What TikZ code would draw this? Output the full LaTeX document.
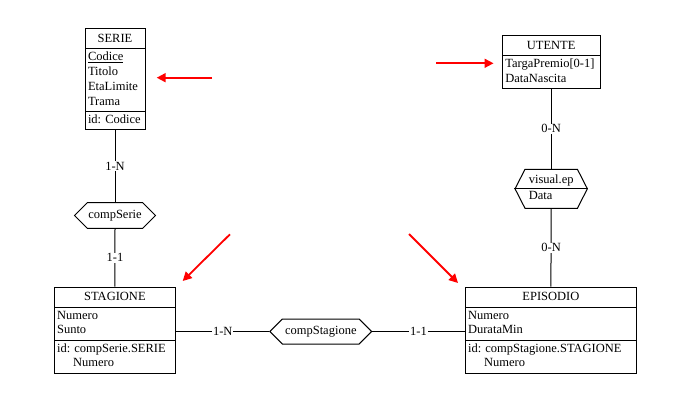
\documentclass[tikz,border=0pt]{standalone}
\usepackage{fontspec}
\setmainfont{Liberation Serif}
\usepackage{tikz}
\usetikzlibrary{shapes,shapes.multipart,shapes.symbols,arrows.meta,positioning,calc}

\newcommand{\ttl}[1]{\rule[-4.5pt]{0pt}{16.5pt}#1}
\newcommand{\attr}[1]{\begin{tabular}{@{}l@{}}#1\end{tabular}}

\begin{document}
\begin{tikzpicture}[x=1pt, y=-1pt, font=\fontsize{12.5}{14.8}\selectfont,
    entity/.style={draw, line width=1pt, rectangle split, rectangle split parts=3,
        rectangle split part align={center,left,left}, inner xsep=3pt, inner ysep=1.2pt, anchor=north},
    rel/.style={draw, line width=1pt, signal, signal to=west and east, inner sep=1pt},
    card/.style={fill=white, inner sep=1pt},
    note/.style={red, line width=1.8pt, -{Triangle[length=9pt,width=9pt]}}]
    \useasboundingbox (0,0) rectangle (682,411);

    % Entities
    \node [entity, minimum width=60pt] (serie) at (115,28.3)
        {\ttl{SERIE}
         \nodepart{two}\attr{\underline{Codice}\\Titolo\\EtaLimite\\Trama}
         \nodepart{three}\attr{id: Codice}};
    \node [entity, rectangle split parts=2, minimum width=97.7pt] (utente) at (551.2,35)
        {\ttl{UTENTE}
         \nodepart{two}\attr{TargaPremio[0-1]\\DataNascita}};
    \node [entity, minimum width=121.7pt] (stagione) at (114.9,286.7)
        {\ttl{STAGIONE}
         \nodepart{two}\attr{Numero\\Sunto}
         \nodepart{three}\attr{id: compSerie.SERIE\\\hspace{16pt}Numero}};
    \node [entity, minimum width=171.7pt] (episodio) at (550.9,286.7)
        {\ttl{EPISODIO}
         \nodepart{two}\attr{Numero\\DurataMin}
         \nodepart{three}\attr{id: compStagione.STAGIONE\\\hspace{16pt}Numero}};

    % Relationships
    \node [rel, minimum width=80.7pt, minimum height=25.6pt] (compserie) at (115,215.5) {compSerie};
    \node [rel, minimum width=101.7pt, minimum height=25pt] (compstagione) at (320.8,331.5) {compStagione};
    \node [rel, signal pointer angle=126, minimum width=72.3pt, minimum height=39pt] (visual) at (551.2,188.8)
        {\attr{visual.ep\\[1.5pt]Data}};
    \draw [line width=1pt] (visual.west) -- (visual.east);

    % Links
    \draw [line width=1pt] (serie.south) -- node [card] {1-N} (compserie.north);
    \draw [line width=1pt] (compserie.south) -- node [card] {1-1} (stagione.north);
    \draw [line width=1pt] (utente.south) -- node [card] {0-N} (visual.north);
    \draw [line width=1pt] (visual.south) -- node [card] {0-N} (episodio.north);
    \draw [line width=1pt] (compstagione.west -| stagione.east) -- node [card] {1-N} (compstagione.west);
    \draw [line width=1pt] (compstagione.east) -- node [card] {1-1} (compstagione.east -| episodio.west);

    % Red arrows
    \coordinate (a1) at (212,77.7);  \coordinate (b1) at (156.7,77.7);
    \coordinate (a2) at (436,63.3);  \coordinate (b2) at (493.5,63.3);
    \coordinate (a3) at (230,234.3); \coordinate (b3) at (182.7,281);
    \coordinate (a4) at (409,234);   \coordinate (b4) at (458,283);
    \foreach \i in {1,...,4} \draw [note] (a\i) -- (b\i);
\end{tikzpicture}
\end{document}
